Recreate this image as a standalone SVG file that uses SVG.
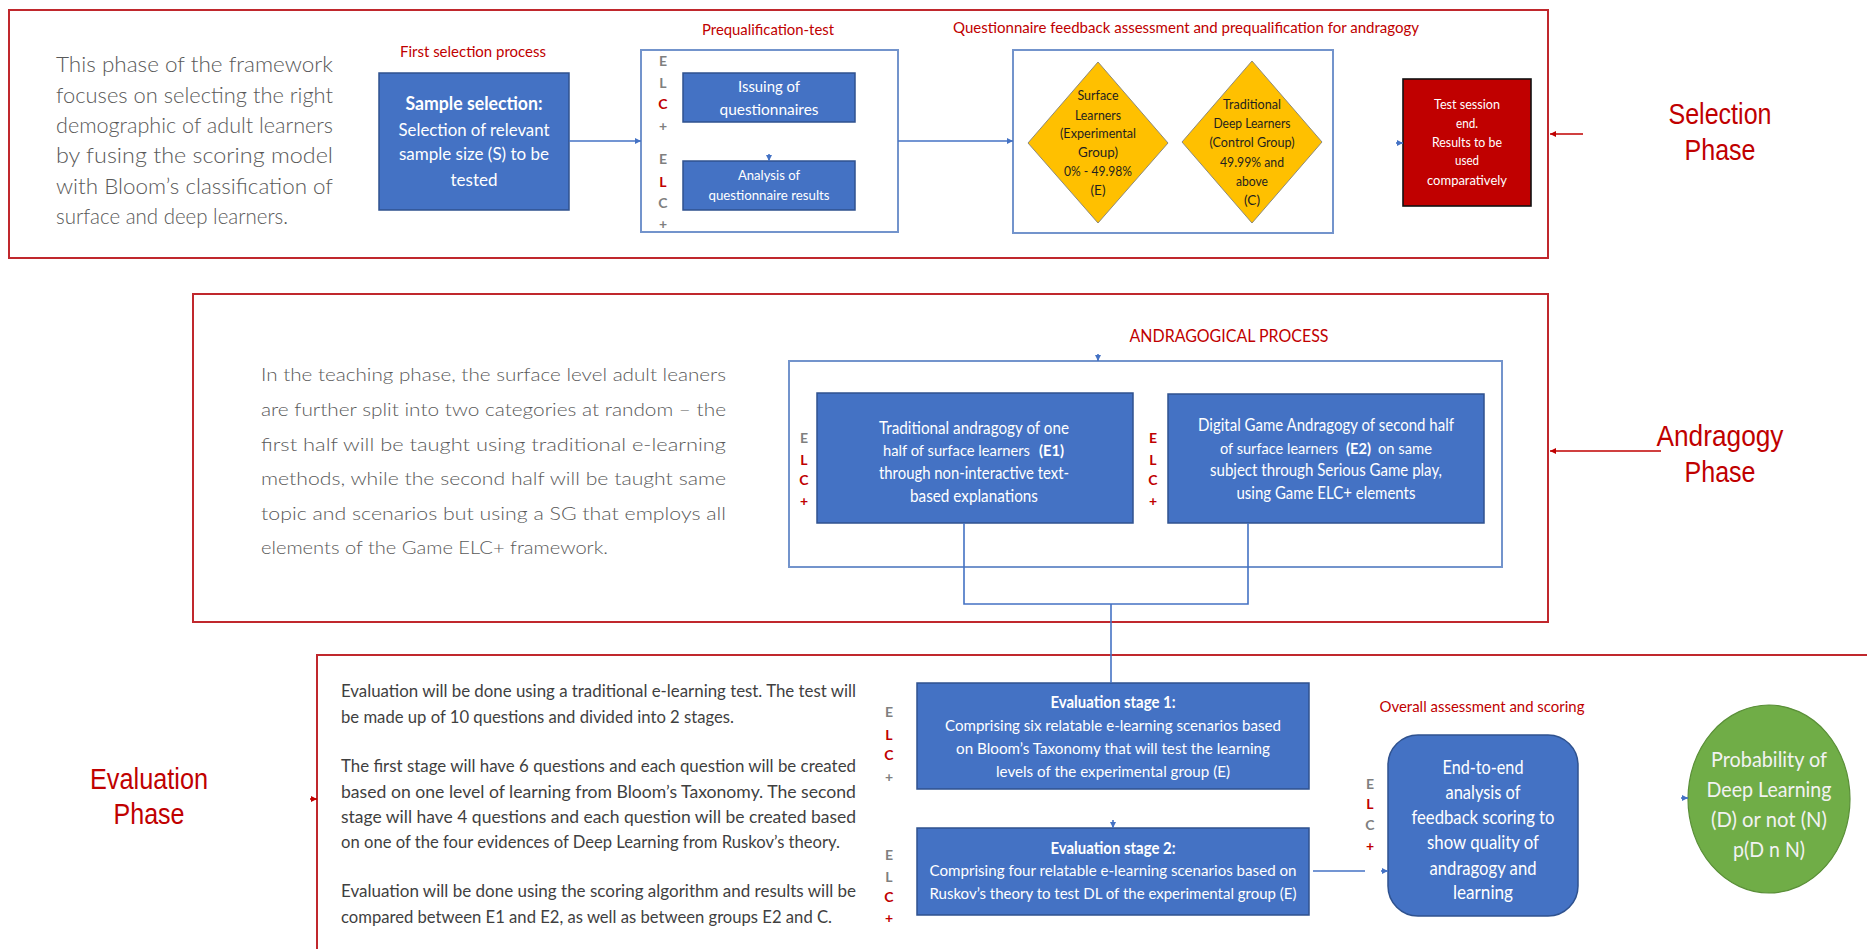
<svg xmlns="http://www.w3.org/2000/svg" width="1867" height="949" viewBox="0 0 1867 949">
  <defs>
    <style>
      text { font-family: Lato, "Open Sans", sans-serif; }
      .para { fill: #595959; font-weight: 300; }
      .dark { fill: #3f3f3f; }
      .lbl { fill: #C00000; }
      .wt { fill: #ffffff; text-anchor: middle; }
      .wl { fill: #ffffff; font-size: 15px; }
      .bk { fill: #1f1f1f; text-anchor: middle; }
      .mid { text-anchor: middle; }
      .elc { font-weight: bold; font-size: 14px; text-anchor: middle; }
      .g { fill: #7f7f7f; }
      .r { fill: #C00000; }
      .phase { font-family: "Liberation Sans", Arial, sans-serif; fill: #C00000; font-size: 29px; text-anchor: middle; }
      .frame { fill: none; stroke: #C0282D; stroke-width: 2; }
      .cont { fill: #ffffff; stroke: #7394CC; stroke-width: 2; }
      .box { fill: #4472C4; stroke: #2F528F; stroke-width: 1.5; }
      .wire { fill: none; stroke: #4472C4; stroke-width: 1.6; }
      .rwire { fill: none; stroke: #C00000; stroke-width: 1.6; }
    </style>
    <marker id="ah" viewBox="0 0 6 6" refX="6" refY="3" markerWidth="6" markerHeight="6" orient="auto" markerUnits="userSpaceOnUse">
      <path d="M0,0 L6,3 L0,6 Z" fill="#4472C4"/>
    </marker>
    <marker id="ahr" viewBox="0 0 6 6" refX="6" refY="3" markerWidth="6" markerHeight="6" orient="auto" markerUnits="userSpaceOnUse">
      <path d="M0,0 L6,3 L0,6 Z" fill="#C00000"/>
    </marker>
  </defs>

  <rect width="1867" height="949" fill="#ffffff"/>

  <!-- ===== Selection phase ===== -->
  <g id="selection-frame">
    <rect class="frame" x="9" y="10" width="1539" height="248"/>
  </g>
  <g id="selection-text" font-size="21">
    <text class="para" x="56" y="72" textLength="277" lengthAdjust="spacingAndGlyphs">This phase of the framework</text>
    <text class="para" x="56" y="103" textLength="277" lengthAdjust="spacingAndGlyphs">focuses on selecting the right</text>
    <text class="para" x="56" y="133" textLength="277" lengthAdjust="spacingAndGlyphs">demographic of adult learners</text>
    <text class="para" x="56" y="163" textLength="277" lengthAdjust="spacingAndGlyphs">by fusing the scoring model</text>
    <text class="para" x="56" y="194" textLength="277" lengthAdjust="spacingAndGlyphs">with Bloom’s classification of</text>
    <text class="para" x="56" y="224" textLength="232" lengthAdjust="spacingAndGlyphs">surface and deep learners.</text>
  </g>

  <g id="sample-selection">
    <text class="lbl mid" x="473" y="57" font-size="15" textLength="146" lengthAdjust="spacingAndGlyphs">First selection process</text>
    <rect class="box" x="379" y="73" width="190" height="137"/>
    <text class="wt" x="474" y="110" font-size="18" font-weight="bold" textLength="137" lengthAdjust="spacingAndGlyphs">Sample selection:</text>
    <text class="wt" x="474" y="136" font-size="18" textLength="151" lengthAdjust="spacingAndGlyphs">Selection of relevant</text>
    <text class="wt" x="474" y="160" font-size="18" textLength="150" lengthAdjust="spacingAndGlyphs">sample size (S) to be</text>
    <text class="wt" x="474" y="186" font-size="18" textLength="47" lengthAdjust="spacingAndGlyphs">tested</text>
  </g>

  <g id="prequalification">
    <text class="lbl mid" x="768" y="35" font-size="15" textLength="132" lengthAdjust="spacingAndGlyphs">Prequalification-test</text>
    <rect class="cont" x="641" y="50" width="257" height="182"/>
    <text class="elc g" x="663" y="66">E</text>
    <text class="elc g" x="663" y="88">L</text>
    <text class="elc r" x="663" y="109">C</text>
    <text class="elc g" x="663" y="131">+</text>
    <text class="elc g" x="663" y="164">E</text>
    <text class="elc r" x="663" y="187">L</text>
    <text class="elc g" x="663" y="208">C</text>
    <text class="elc g" x="663" y="229">+</text>
  </g>
  <g id="issuing">
    <rect class="box" x="683" y="73" width="172" height="49"/>
    <text class="wt" x="769" y="92" font-size="15" textLength="62" lengthAdjust="spacingAndGlyphs">Issuing of</text>
    <text class="wt" x="769" y="115" font-size="15" textLength="99" lengthAdjust="spacingAndGlyphs">questionnaires</text>
  </g>
  <g id="analysis">
    <rect class="box" x="683" y="161" width="172" height="49"/>
    <text class="wt" x="769" y="180" font-size="14" textLength="62" lengthAdjust="spacingAndGlyphs">Analysis of</text>
    <text class="wt" x="769" y="200" font-size="14" textLength="121" lengthAdjust="spacingAndGlyphs">questionnaire results</text>
  </g>

  <g id="questionnaire-assessment">
    <text class="lbl mid" x="1186" y="33" font-size="15" textLength="466" lengthAdjust="spacingAndGlyphs">Questionnaire feedback assessment and prequalification for andragogy</text>
    <rect class="cont" x="1013" y="50" width="320" height="183"/>
  </g>
  <g id="surface-learners" font-size="13">
    <polygon points="1098,62 1168,143 1098,223 1028,143" fill="#FFC000" stroke="#8E8A7A" stroke-width="1"/>
    <text class="bk" x="1098" y="99.5" textLength="41" lengthAdjust="spacingAndGlyphs">Surface</text>
    <text class="bk" x="1098" y="119.5" textLength="46" lengthAdjust="spacingAndGlyphs">Learners</text>
    <text class="bk" x="1098" y="137.5" textLength="76" lengthAdjust="spacingAndGlyphs">(Experimental</text>
    <text class="bk" x="1098" y="156.5" textLength="40" lengthAdjust="spacingAndGlyphs">Group)</text>
    <text class="bk" x="1098" y="175.5" textLength="68" lengthAdjust="spacingAndGlyphs">0% - 49.98%</text>
    <text class="bk" x="1098" y="194.5" textLength="15" lengthAdjust="spacingAndGlyphs">(E)</text>
  </g>
  <g id="deep-learners" font-size="13">
    <polygon points="1252,61 1322,142 1252,223 1182,142" fill="#FFC000" stroke="#8E8A7A" stroke-width="1"/>
    <text class="bk" x="1252" y="108.5" textLength="58" lengthAdjust="spacingAndGlyphs">Traditional</text>
    <text class="bk" x="1252" y="127.5" textLength="77" lengthAdjust="spacingAndGlyphs">Deep Learners</text>
    <text class="bk" x="1252" y="146.5" textLength="85" lengthAdjust="spacingAndGlyphs">(Control Group)</text>
    <text class="bk" x="1252" y="166.5" textLength="64" lengthAdjust="spacingAndGlyphs">49.99% and</text>
    <text class="bk" x="1252" y="185.5" textLength="32" lengthAdjust="spacingAndGlyphs">above</text>
    <text class="bk" x="1252" y="204.5" textLength="16" lengthAdjust="spacingAndGlyphs">(C)</text>
  </g>
  <g id="session-end" font-size="13">
    <rect x="1403" y="79" width="128" height="127" fill="#C00000" stroke="#111111" stroke-width="1.6"/>
    <text class="wt" x="1467" y="108.5" textLength="66" lengthAdjust="spacingAndGlyphs">Test session</text>
    <text class="wt" x="1467" y="127.5" textLength="22" lengthAdjust="spacingAndGlyphs">end.</text>
    <text class="wt" x="1467" y="146.5" textLength="70" lengthAdjust="spacingAndGlyphs">Results to be</text>
    <text class="wt" x="1467" y="164.5" textLength="24" lengthAdjust="spacingAndGlyphs">used</text>
    <text class="wt" x="1467" y="184.5" textLength="80" lengthAdjust="spacingAndGlyphs">comparatively</text>
  </g>
  <g id="selection-label">
    <text class="phase" x="1720" y="124" textLength="103" lengthAdjust="spacingAndGlyphs">Selection</text>
    <text class="phase" x="1720" y="160" textLength="71" lengthAdjust="spacingAndGlyphs">Phase</text>
  </g>

  <!-- ===== Andragogy phase ===== -->
  <g id="andragogy-frame">
    <rect class="frame" x="193" y="294" width="1355" height="328"/>
  </g>
  <g id="andragogy-text" font-size="18">
    <text class="para" x="261" y="381" textLength="465" lengthAdjust="spacingAndGlyphs">In the teaching phase, the surface level adult leaners</text>
    <text class="para" x="261" y="416" textLength="465" lengthAdjust="spacingAndGlyphs">are further split into two categories at random – the</text>
    <text class="para" x="261" y="451" textLength="465" lengthAdjust="spacingAndGlyphs">first half will be taught using traditional e-learning</text>
    <text class="para" x="261" y="485" textLength="465" lengthAdjust="spacingAndGlyphs">methods, while the second half will be taught same</text>
    <text class="para" x="261" y="520" textLength="465" lengthAdjust="spacingAndGlyphs">topic and scenarios but using a SG that employs all</text>
    <text class="para" x="261" y="554" textLength="347" lengthAdjust="spacingAndGlyphs">elements of the Game ELC+ framework.</text>
  </g>
  <g id="andragogical-process">
    <text class="lbl mid" x="1229" y="342" font-size="17" textLength="199" lengthAdjust="spacingAndGlyphs">ANDRAGOGICAL PROCESS</text>
    <rect class="cont" x="789" y="361" width="713" height="206"/>
  </g>
  <g id="traditional-andragogy" font-size="17">
    <rect class="box" x="817" y="393" width="316" height="130"/>
    <text class="wt" x="974" y="434" textLength="190" lengthAdjust="spacingAndGlyphs">Traditional andragogy of one</text>
    <text class="wl" x="883" y="456" textLength="147" lengthAdjust="spacingAndGlyphs">half of surface learners</text>
    <text class="wl" x="1039" y="456" font-weight="bold" textLength="25" lengthAdjust="spacingAndGlyphs">(E1)</text>
    <text class="wt" x="974" y="479" textLength="190" lengthAdjust="spacingAndGlyphs">through non-interactive text-</text>
    <text class="wt" x="974" y="502" textLength="128" lengthAdjust="spacingAndGlyphs">based explanations</text>
    <text class="elc g" x="804" y="443">E</text>
    <text class="elc r" x="804" y="465">L</text>
    <text class="elc r" x="804" y="485">C</text>
    <text class="elc r" x="804" y="506">+</text>
  </g>
  <g id="game-andragogy" font-size="17">
    <rect class="box" x="1168" y="394" width="316" height="129"/>
    <text class="wt" x="1326" y="431" textLength="256" lengthAdjust="spacingAndGlyphs">Digital Game Andragogy of second half</text>
    <text class="wl" x="1220" y="454" textLength="118" lengthAdjust="spacingAndGlyphs">of surface learners</text>
    <text class="wl" x="1346" y="454" font-weight="bold" textLength="25" lengthAdjust="spacingAndGlyphs">(E2)</text>
    <text class="wl" x="1378" y="454" textLength="54" lengthAdjust="spacingAndGlyphs">on same</text>
    <text class="wt" x="1326" y="476" textLength="232" lengthAdjust="spacingAndGlyphs">subject through Serious Game play,</text>
    <text class="wt" x="1326" y="499" textLength="179" lengthAdjust="spacingAndGlyphs">using Game ELC+ elements</text>
    <text class="elc r" x="1153" y="443">E</text>
    <text class="elc r" x="1153" y="465">L</text>
    <text class="elc r" x="1153" y="485">C</text>
    <text class="elc r" x="1153" y="506">+</text>
  </g>
  <g id="andragogy-label">
    <text class="phase" x="1720" y="446" textLength="127" lengthAdjust="spacingAndGlyphs">Andragogy</text>
    <text class="phase" x="1720" y="482" textLength="71" lengthAdjust="spacingAndGlyphs">Phase</text>
  </g>

  <!-- ===== Evaluation phase ===== -->
  <g id="evaluation-frame">
    <path class="frame" d="M317,949 V655 H1867"/>
  </g>
  <g id="evaluation-label">
    <text class="phase" x="149" y="789" textLength="118" lengthAdjust="spacingAndGlyphs">Evaluation</text>
    <text class="phase" x="149" y="824" textLength="71" lengthAdjust="spacingAndGlyphs">Phase</text>
  </g>
  <g id="evaluation-text" font-size="17">
    <text class="dark" x="341" y="697" textLength="515" lengthAdjust="spacingAndGlyphs">Evaluation will be done using a traditional e-learning test. The test will</text>
    <text class="dark" x="341" y="723" textLength="393" lengthAdjust="spacingAndGlyphs">be made up of 10 questions and divided into 2 stages.</text>
    <text class="dark" x="341" y="772" textLength="515" lengthAdjust="spacingAndGlyphs">The first stage will have 6 questions and each question will be created</text>
    <text class="dark" x="341" y="798" textLength="515" lengthAdjust="spacingAndGlyphs">based on one level of learning from Bloom’s Taxonomy. The second</text>
    <text class="dark" x="341" y="823" textLength="515" lengthAdjust="spacingAndGlyphs">stage will have 4 questions and each question will be created based</text>
    <text class="dark" x="341" y="848" textLength="499" lengthAdjust="spacingAndGlyphs">on one of the four evidences of Deep Learning from Ruskov’s theory.</text>
    <text class="dark" x="341" y="897" textLength="515" lengthAdjust="spacingAndGlyphs">Evaluation will be done using the scoring algorithm and results will be</text>
    <text class="dark" x="341" y="923" textLength="491" lengthAdjust="spacingAndGlyphs">compared between E1 and E2, as well as between groups E2 and C.</text>
  </g>
  <g id="evaluation-stage-1" font-size="16">
    <rect class="box" x="917" y="683" width="392" height="106"/>
    <text class="wt" x="1113" y="708" font-size="17" font-weight="bold" textLength="125" lengthAdjust="spacingAndGlyphs">Evaluation stage 1:</text>
    <text class="wt" x="1113" y="731" textLength="336" lengthAdjust="spacingAndGlyphs">Comprising six relatable e-learning scenarios based</text>
    <text class="wt" x="1113" y="754" textLength="314" lengthAdjust="spacingAndGlyphs">on Bloom’s Taxonomy that will test the learning</text>
    <text class="wt" x="1113" y="777" textLength="234" lengthAdjust="spacingAndGlyphs">levels of the experimental group (E)</text>
    <text class="elc g" x="889" y="717">E</text>
    <text class="elc r" x="889" y="740">L</text>
    <text class="elc r" x="889" y="760">C</text>
    <text class="elc g" x="889" y="782">+</text>
  </g>
  <g id="evaluation-stage-2" font-size="16">
    <rect class="box" x="917" y="828" width="392" height="87"/>
    <text class="wt" x="1113" y="854" font-size="17" font-weight="bold" textLength="125" lengthAdjust="spacingAndGlyphs">Evaluation stage 2:</text>
    <text class="wt" x="1113" y="876" textLength="367" lengthAdjust="spacingAndGlyphs">Comprising four relatable e-learning scenarios based on</text>
    <text class="wt" x="1113" y="899" textLength="367" lengthAdjust="spacingAndGlyphs">Ruskov’s theory to test DL of the experimental group (E)</text>
    <text class="elc g" x="889" y="860">E</text>
    <text class="elc g" x="889" y="882">L</text>
    <text class="elc r" x="889" y="902">C</text>
    <text class="elc r" x="889" y="923">+</text>
  </g>
  <g id="overall-assessment" font-size="20">
    <text class="lbl mid" x="1482" y="712" font-size="16" textLength="205" lengthAdjust="spacingAndGlyphs">Overall assessment and scoring</text>
    <rect class="box" x="1388" y="735" width="190" height="181" rx="30" ry="30"/>
    <text class="wt" x="1483" y="774" textLength="81" lengthAdjust="spacingAndGlyphs">End-to-end</text>
    <text class="wt" x="1483" y="799" textLength="75" lengthAdjust="spacingAndGlyphs">analysis of</text>
    <text class="wt" x="1483" y="824" textLength="143" lengthAdjust="spacingAndGlyphs">feedback scoring to</text>
    <text class="wt" x="1483" y="849" textLength="112" lengthAdjust="spacingAndGlyphs">show quality of</text>
    <text class="wt" x="1483" y="875" textLength="107" lengthAdjust="spacingAndGlyphs">andragogy and</text>
    <text class="wt" x="1483" y="899" textLength="60" lengthAdjust="spacingAndGlyphs">learning</text>
    <text class="elc g" x="1370" y="789">E</text>
    <text class="elc r" x="1370" y="809">L</text>
    <text class="elc g" x="1370" y="830">C</text>
    <text class="elc r" x="1370" y="851">+</text>
  </g>
  <g id="deep-learning-probability" font-size="22">
    <ellipse cx="1769" cy="799" rx="81" ry="94" fill="#70AD47" stroke="#5A8F38" stroke-width="1.2"/>
    <text class="mid" fill="#F2F2F2" x="1769" y="767" textLength="116" lengthAdjust="spacingAndGlyphs">Probability of</text>
    <text class="mid" fill="#F2F2F2" x="1769" y="797" textLength="125" lengthAdjust="spacingAndGlyphs">Deep Learning</text>
    <text class="mid" fill="#F2F2F2" x="1769" y="827" textLength="116" lengthAdjust="spacingAndGlyphs">(D) or not (N)</text>
    <text class="mid" fill="#F2F2F2" x="1769" y="857" textLength="72" lengthAdjust="spacingAndGlyphs">p(D n N)</text>
  </g>

  <!-- ===== Connectors ===== -->
  <g id="connectors">
    <path class="wire" d="M569,141 H641" marker-end="url(#ah)"/>
    <path class="wire" d="M769,154 V161" marker-end="url(#ah)"/>
    <path class="wire" d="M898,141 H1013" marker-end="url(#ah)"/>
    <path class="wire" d="M1396,143 H1403" marker-end="url(#ah)"/>
    <path class="rwire" d="M1583,134 H1550" marker-end="url(#ahr)"/>
    <path class="wire" d="M1098,354 V361" marker-end="url(#ah)"/>
    <path class="rwire" d="M1661,451 H1550" marker-end="url(#ahr)"/>
    <path class="wire" d="M964,523 V604 H1248 V523"/>
    <path class="wire" d="M1111,604 V683" stroke-width="2"/>
    <path class="wire" d="M1113,820 V828" marker-end="url(#ah)"/>
    <path class="rwire" d="M310,799 H317" marker-end="url(#ahr)"/>
    <path class="wire" d="M1313,871 H1365"/>
    <path class="wire" d="M1381,871 H1388" marker-end="url(#ah)"/>
    <path class="wire" d="M1681,798 H1688" marker-end="url(#ah)"/>
  </g>
</svg>
